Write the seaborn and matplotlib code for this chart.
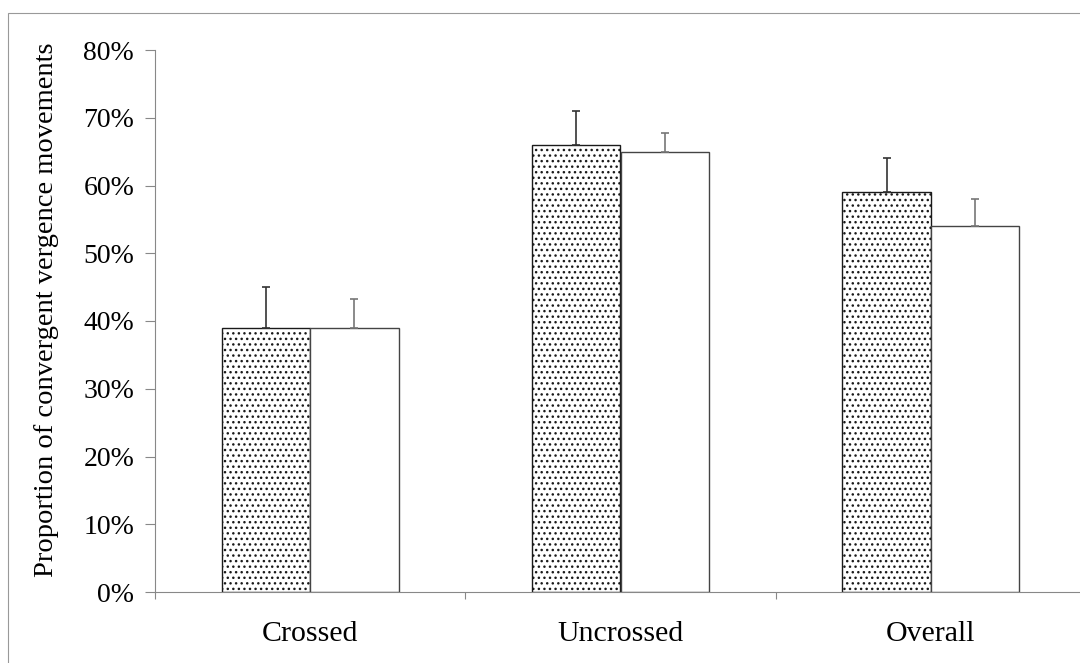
import numpy as np
import pandas as pd
import seaborn as sns
import matplotlib.pyplot as plt
from matplotlib.ticker import FuncFormatter, FixedLocator
from matplotlib.patches import Rectangle

categories = ["Crossed", "Uncrossed", "Overall"]
series_names = ["stippled", "plain"]
stippled_values = [39, 66, 59]
stippled_errors = [6, 5, 5]
plain_values = [39, 65, 54]
plain_errors = [4.2, 2.8, 4.0]
y_ticks = [0, 10, 20, 30, 40, 50, 60, 70, 80]
y_label = "Proportion of convergent vergence movements"

df = pd.DataFrame({
    "category": categories * 2,
    "condition": [series_names[0]] * 3 + [series_names[1]] * 3,
    "value": stippled_values + plain_values,
})

sns.set_theme(style="white")
plt.rcParams['font.family'] = ['Liberation Serif', 'DejaVu Serif']
plt.rcParams['hatch.linewidth'] = 1.0

fig = plt.figure(figsize=(10.8, 6.63), dpi=100)
ax = fig.add_axes([155 / 1080, 71 / 663, (1086 - 155) / 1080, 542 / 663])

sns.barplot(data=df, x="category", y="value", hue="condition",
            order=categories, hue_order=series_names,
            palette=["white", "white"], width=0.57, edgecolor="#222222",
            linewidth=1.0, errorbar=None, legend=False, ax=ax)

for p in ax.containers[0]:
    p.set_hatch("...")
    p.set_edgecolor("#1a1a1a")
for p in ax.containers[1]:
    p.set_edgecolor("#444444")

for container, errs, col in zip(ax.containers, [stippled_errors, plain_errors], ["#333333", "#777777"]):
    xs = [p.get_x() + p.get_width() / 2 for p in container]
    ys = [p.get_height() for p in container]
    ax.errorbar(xs, ys, yerr=[np.zeros(len(errs)), errs], fmt="none",
                ecolor=col, elinewidth=1.2, capsize=2.8, capthick=1.2, zorder=3)

ax.set_ylim(0, 80)
ax.set_xlim(-0.5, 2.5)
ax.set_yticks(y_ticks)
ax.yaxis.set_major_formatter(FuncFormatter(lambda v, _: f"{v:.0f}%"))

for s in ["top", "right"]:
    ax.spines[s].set_visible(False)
for s in ["left", "bottom"]:
    ax.spines[s].set_color("#888888")
    ax.spines[s].set_linewidth(0.8)

ax.tick_params(axis="y", left=True, direction="out", length=7, width=0.8,
               color="#888888", pad=8, labelsize=20, labelcolor="black")
ax.xaxis.set_minor_locator(FixedLocator([-0.5, 0.5, 1.5, 2.5]))
ax.tick_params(axis="x", which="major", bottom=True, length=0, pad=21,
               labelsize=21.5, labelcolor="black")
ax.tick_params(axis="x", which="minor", bottom=True, direction="out",
               length=5, width=0.8, color="#888888")

ax.set_xlabel("")
ax.set_ylabel(y_label, fontsize=20.5, color="black")
ax.yaxis.set_label_coords(-0.103, 0.52)

fig.patches.append(Rectangle((8 / 1080, -0.1), 1.2, 1.1 - 13 / 663,
                             transform=fig.transFigure, fill=False,
                             edgecolor="#999999", linewidth=0.8))

fig.savefig("out.png", dpi=100)
